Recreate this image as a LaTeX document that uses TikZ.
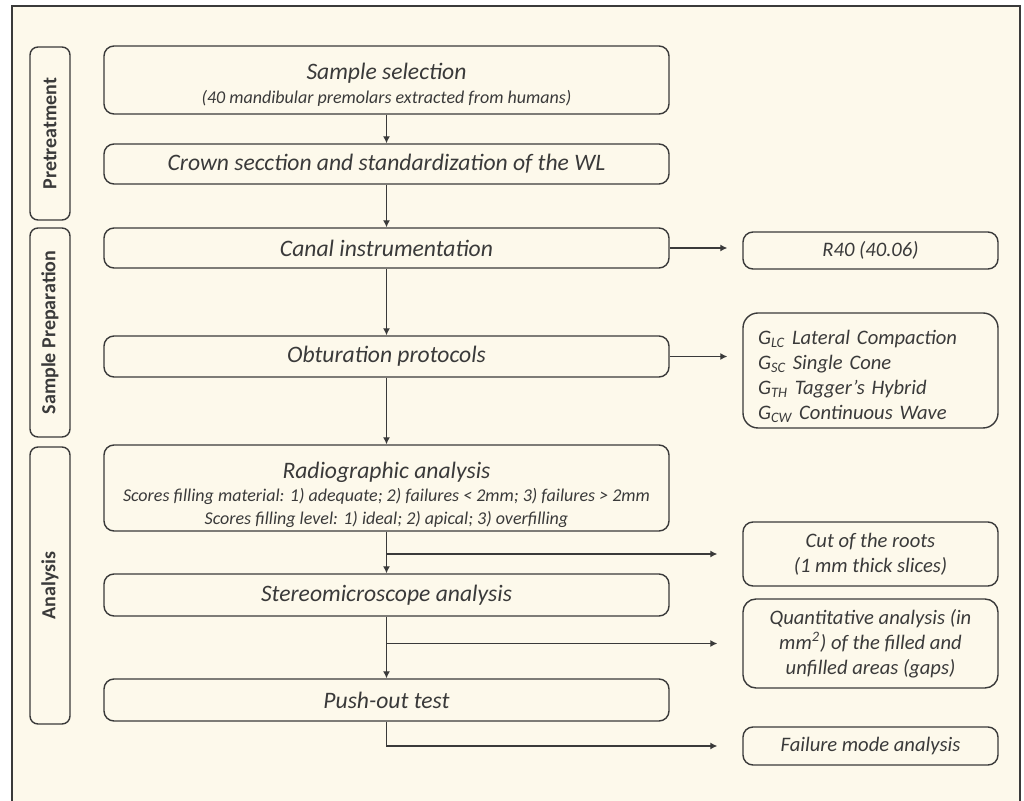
\documentclass[tikz,border=0pt]{standalone}
\usepackage{fontspec}
\setmainfont{Carlito}
\usetikzlibrary{positioning,arrows.meta}

\definecolor{cream}{HTML}{FDF9EB}
\definecolor{ink}{HTML}{3A3A3A}

\newcommand{\scoreline}[1]{{\fontsize{9}{11}\selectfont #1}}

\tikzset{
  stagebox/.style={draw=ink, line width=0.7pt, rounded corners=5pt, minimum width=282.5pt, inner sep=2pt, align=center, text=ink, font=\itshape\fontsize{11.8}{13}\selectfont},
  sidebox/.style={draw=ink, line width=0.7pt, rounded corners=5pt, minimum width=127.5pt, inner sep=2pt, align=center, text=ink, font=\itshape\fontsize{10.3}{12.5}\selectfont},
  phasebox/.style={draw=ink, line width=0.7pt, rounded corners=4pt, rotate=90, minimum height=20pt, inner sep=0pt, text=ink, font=\bfseries\fontsize{10}{12}\selectfont},
  flow/.style={draw=ink, line width=0.6pt, -{Latex[length=3.5pt,width=3.5pt]}},
}

\begin{document}
\begin{tikzpicture}[x=0.5pt,y=-0.5pt]
\useasboundingbox (0,0) rectangle (1024,801);
\fill[cream] (12,6) rectangle (1020,801);
\draw[line width=0.8pt, color=ink](12,801) -- (12,6) -- (1020,6) -- (1020,801);

% phases
\node[phasebox, minimum width=86.5pt] (pre) at (50,133.5) {Pretreatment};
\node[phasebox, minimum width=104.5pt] (prep) at (50,332.5) {Sample Preparation};
\node[phasebox, minimum width=138.5pt] (ana) at (50,585.5) {Analysis};

% main column
\node[stagebox, minimum height=34pt, inner ysep=0pt] (sel) at (386.5,80) {\rule{0pt}{13pt}Sample selection\\[-1pt]{\fontsize{9}{11}\selectfont(40 mandibular premolars extracted from humans)}};
\node[stagebox, minimum height=20pt] (crown) at (386.5,164) {Crown secction and standardization of the WL};
\node[stagebox, minimum height=20pt] (canal) at (386.5,248) {Canal instrumentation};
\node[stagebox, minimum height=20.5pt] (obt) at (386.5,356.5) {Obturation protocols};
\node[stagebox, minimum height=43pt, inner ysep=1pt] (radio) at (386.5,488) {\rule{0pt}{15pt}Radiographic analysis\\[-1.5pt]\scoreline{Scores filling material: 1) adequate; 2) failures < 2mm; 3) failures > 2mm}\\[-1.5pt]\scoreline{Scores filling level: 1) ideal; 2) apical; 3) overfilling}};
\node[stagebox, minimum height=21pt] (stereo) at (386.5,595) {Stereomicroscope analysis};
\node[stagebox, minimum height=21pt] (push) at (386.5,700) {Push-out test};

% side column
\node[sidebox, minimum height=18.5pt] (r40) at (870.5,250.5) {R40 (40.06)};
\node[sidebox, rounded corners=7.5pt, minimum height=57.5pt, text width=112.5pt, inner xsep=7.5pt, inner ysep=0pt, align=left] (groups) at (870.5,370.5) {\rule{0pt}{13pt}G\textsubscript{LC} Lateral Compaction\\G\textsubscript{SC} Single Cone\\G\textsubscript{TH} Tagger’s Hybrid\\G\textsubscript{CW} Continuous Wave};
\node[sidebox, minimum height=32pt] (cut) at (870.5,554) {Cut of the roots\\(1 mm thick slices)};
\node[sidebox, rounded corners=6.5pt, minimum height=44.5pt] (quant) at (870.5,643.5) {Quantitative analysis (in\\mm\textsuperscript{2}) of the filled and\\unfilled areas (gaps)};
\node[sidebox, minimum height=19pt] (fail) at (870.5,746) {Failure mode analysis};

% connectors
\draw[flow] (sel) -- (crown);
\draw[flow] (crown) -- (canal);
\draw[flow] (canal) -- (obt);
\draw[flow] (obt) -- (radio);
\draw[flow] (radio) -- (stereo);
\draw[flow] (stereo) -- (push);
\draw[flow, shorten >=7.5pt] (canal.east) -- (canal.east -| r40.west);
\draw[flow, shorten >=7.5pt] (obt.east) -- (obt.east -| groups.west);
\draw[flow, shorten >=12.5pt] (radio.south |- cut.west) -- (cut.west);
\draw[flow, shorten >=12.5pt] (stereo.south |- quant.west) -- (quant.west);
\draw[flow, shorten >=12.5pt] (push.south) |- (fail.west);
\end{tikzpicture}
\end{document}
